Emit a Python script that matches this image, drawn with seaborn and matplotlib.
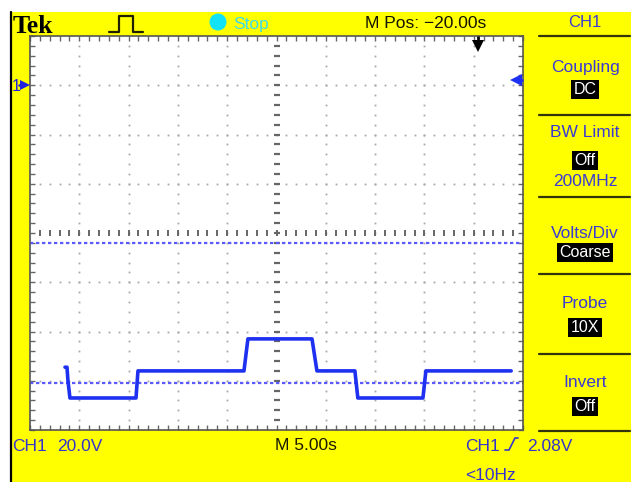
import matplotlib
matplotlib.use("Agg")
import matplotlib.pyplot as plt
import seaborn as sns
import numpy as np
import pandas as pd
from matplotlib.patches import Rectangle, Circle

# ---------------- data ----------------
trace_time_s = [3.55, 3.75, 3.85, 4.05, 10.75, 10.95, 21.7, 22.1, 28.6, 29.1,
                32.95, 33.25, 39.85, 40.15, 48.8]
trace_volts = [-114.5, -114.5, -120, -127, -127, -116, -116, -103, -103, -116,
               -116, -127, -127, -116, -116]
cursor_levels_v = [-64, -121]
ground_level_v = 0.0
trigger_level_v = 2.08
trigger_time_s = 45.4
sec_per_div = 5.0
volts_per_div = 20.0
n_hdiv = 10
n_vdiv = 8
screen_top_v = 20.0

header_texts = ["Tek", "Stop", "M Pos: \u221220.00s"]
footer_texts = ["CH1", "20.0V", "M 5.00s", "CH1", "2.08V", "<10Hz"]
menu_title = "CH1"
menu_labels = ["Coupling", "BW Limit", "Volts/Div", "Probe", "Invert"]
menu_values = [["DC"], ["Off", "200MHz"], ["Coarse"], ["10X"], ["Off"]]

# ---------------- figure ----------------
sns.set_theme(style="white")
plt.rcParams["font.family"] = ["Liberation Sans", "DejaVu Sans"]

W, H = 633, 482
fig = plt.figure(figsize=(W / 100, H / 100), dpi=100, facecolor="white")

# background overlay in pixel coords
bg = fig.add_axes([0, 0, 1, 1], zorder=0)
bg.set_xlim(0, W)
bg.set_ylim(H, 0)
bg.axis("off")
bg.add_patch(Rectangle((10, 12), 621, 470, facecolor="#ffff00", edgecolor="none"))
bg.plot([10.5, 10.5], [12, H], color="black", lw=1.6)

# scope screen axes
px_l, px_t, px_r, px_b = 30, 36, 523, 430
ax = fig.add_axes([px_l / W, 1 - px_b / H, (px_r - px_l) / W, (px_b - px_t) / H], zorder=1)
ax.set_facecolor("white")
t_max = n_hdiv * sec_per_div
v_min = screen_top_v - n_vdiv * volts_per_div
ax.set_xlim(0, t_max)
ax.set_ylim(v_min, screen_top_v)
for s in ax.spines.values():
    s.set_color("#555555")
    s.set_linewidth(1.2)
minor_t = np.arange(0, t_max + 0.01, sec_per_div / 5)
minor_v = np.arange(v_min, screen_top_v + 0.01, volts_per_div / 5)
ax.set_xticks(minor_t)
ax.set_yticks(minor_v)
ax.tick_params(direction="in", length=3.5, width=1, color="#666666",
               top=True, right=True, bottom=True, left=True,
               labelbottom=False, labelleft=False)
ax.grid(False)

center_t = t_max / 2
center_v = (screen_top_v + v_min) / 2
grid_col = "#a8a8a8"
# dotted graticule
for k in range(1, n_hdiv):
    xg = k * sec_per_div
    if abs(xg - center_t) < 1e-6:
        continue
    ax.plot(np.full(minor_v[1:-1].size, xg), minor_v[1:-1], ls="none",
            marker="s", ms=1.3, color=grid_col, mew=0)
for k in range(1, n_vdiv):
    yg = v_min + k * volts_per_div
    if abs(yg - center_v) < 1e-6:
        continue
    ax.plot(minor_t[1:-1], np.full(minor_t[1:-1].size, yg), ls="none",
            marker="s", ms=1.3, color=grid_col, mew=0)
# centre axes with minor ticks
ax.plot(np.full(minor_v[1:-1].size, center_t), minor_v[1:-1], ls="none",
        marker="_", ms=5, mew=1.6, color="#666666")
ax.plot(minor_t[1:-1], np.full(minor_t[1:-1].size, center_v), ls="none",
        marker="|", ms=5, mew=1.4, color="#666666")

# cursor lines
for lv in cursor_levels_v:
    ax.axhline(lv, color="#5a5aff", lw=1.6, ls=(0, (1.5, 1.2)), zorder=2)

# waveform
df = pd.DataFrame({"t": trace_time_s, "v": trace_volts})
sns.lineplot(data=df, x="t", y="v", ax=ax, color="#1e30f0", lw=2.6,
             estimator=None, sort=False, zorder=3)
ax.set_xlabel("")
ax.set_ylabel("")

# trigger position marker (top) and trigger level marker (right)
px_v = volts_per_div / ((px_b - px_t) / n_vdiv)
px_t_s = sec_per_div / ((px_r - px_l) / n_hdiv)
ax.plot([trigger_time_s, trigger_time_s], [screen_top_v, screen_top_v - 6 * px_v],
        color="black", lw=2, clip_on=False, zorder=5, solid_capstyle="butt")
ax.plot([trigger_time_s], [screen_top_v - 10 * px_v], marker="v", ms=8,
        color="black", mew=0, clip_on=False, zorder=5)
ax.plot([t_max - 5 * px_t_s, t_max], [trigger_level_v, trigger_level_v],
        color="#1e30f0", lw=2, clip_on=False, zorder=5, solid_capstyle="butt")
ax.plot([t_max - 7 * px_t_s], [trigger_level_v], marker="<", ms=8,
        color="#1e30f0", mew=0, clip_on=False, zorder=5)

# foreground overlay in pixel coords
fg = fig.add_axes([0, 0, 1, 1], zorder=4)
fg.set_xlim(0, W)
fg.set_ylim(H, 0)
fg.axis("off")
fg.patch.set_alpha(0)

# ground marker "1->"
gy = px_t + (screen_top_v - ground_level_v) / px_v
fg.text(12, gy + 5.5, "1", color="#2020e0", fontsize=11.5, ha="left", va="baseline")
fg.plot([19, 24], [gy, gy], color="#2020e0", lw=1.8)
fg.plot([25], [gy], marker=">", ms=6.5, color="#2020e0", mew=0)

# header
fg.text(13, 33, header_texts[0], fontsize=18.5, fontweight="bold",
        family=["Liberation Serif", "DejaVu Serif"], color="black",
        ha="left", va="baseline")
fg.plot([109, 119, 119, 133, 133, 143], [32, 32, 16, 16, 32, 32],
        color="#202000", lw=1.6)
fg.add_patch(Circle((218, 22), 8.5, facecolor="#12e2f5", edgecolor="none"))
fg.text(233, 28.5, header_texts[1], fontsize=12.5, color="#3edbe8",
        ha="left", va="baseline")
fg.text(365, 28, header_texts[2], fontsize=12.5, color="#141400",
        ha="left", va="baseline")

# right menu
menu_col = "#3a3ad4"
line_col = "#34340c"
cx = 585
fg.text(cx, 27, menu_title, fontsize=12, color=menu_col, ha="center", va="baseline")
sep_y = [36, 115, 197, 274, 354, 431]
for yy in sep_y:
    fg.plot([539, 630], [yy, yy], color=line_col, lw=1.6)
label_base = [72, 137, 238, 308, 387]
value_y = [[88], [159, 186], [251], [326], [405]]
for lab, lb, vals, vys in zip(menu_labels, label_base, menu_values, value_y):
    fg.text(cx, lb, lab, fontsize=12.5, color=menu_col, ha="center", va="baseline")
    for j, (val, vy) in enumerate(zip(vals, vys)):
        if j == 0:
            fg.text(cx, vy, val, fontsize=11.5, color="white", ha="center",
                    va="center_baseline",
                    bbox=dict(boxstyle="square,pad=0.15", facecolor="black",
                              edgecolor="none"))
        else:
            fg.text(cx, vy, val, fontsize=12.5, color=menu_col, ha="center",
                    va="baseline")

# footer
foot_col = "#3434cc"
fg.text(12, 451, footer_texts[0], fontsize=12.5, color=foot_col, ha="left", va="baseline")
fg.text(57, 451, footer_texts[1], fontsize=12.5, color=foot_col, ha="left", va="baseline")
fg.text(275, 450, footer_texts[2], fontsize=12.5, color="#1a1a00", ha="left", va="baseline")
fg.text(465, 451, footer_texts[3], fontsize=12.5, color=foot_col, ha="left", va="baseline")
fg.plot([505, 509, 515, 518], [450, 450, 438, 438], color=foot_col, lw=1.2)
fg.text(527, 451, footer_texts[4], fontsize=12.5, color=foot_col, ha="left", va="baseline")
fg.text(465, 480, footer_texts[5], fontsize=12.5, color=foot_col, ha="left", va="baseline")

fig.savefig("out.png", dpi=100, facecolor="white")
